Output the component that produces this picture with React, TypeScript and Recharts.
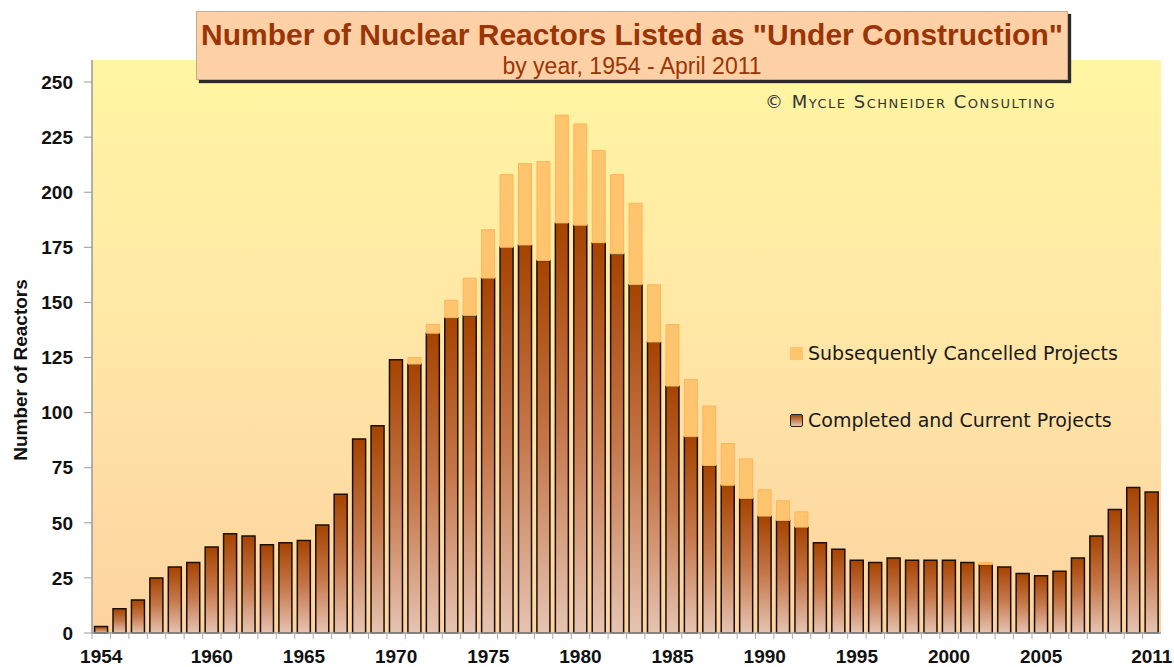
import React from 'react';
import { BarChart, Bar, XAxis, YAxis, CartesianGrid } from 'recharts';

const years = [
  1954, 1955, 1956, 1957, 1958, 1959, 1960, 1961, 1962, 1963,
  1964, 1965, 1966, 1967, 1968, 1969, 1970, 1971, 1972, 1973,
  1974, 1975, 1976, 1977, 1978, 1979, 1980, 1981, 1982, 1983,
  1984, 1985, 1986, 1987, 1988, 1989, 1990, 1991, 1992, 1993,
  1994, 1995, 1996, 1997, 1998, 1999, 2000, 2001, 2002, 2003,
  2004, 2005, 2006, 2007, 2008, 2009, 2010, 2011,
];

// completed and current projects (dark bars)
const completed = [
  3, 11, 15, 25, 30, 32, 39, 45, 44, 40,
  41, 42, 49, 63, 88, 94, 124, 122, 136, 143,
  144, 161, 175, 176, 169, 186, 185, 177, 172, 158,
  132, 112, 89, 76, 67, 61, 53, 51, 48, 41,
  38, 33, 32, 34, 33, 33, 33, 32, 31, 30,
  27, 26, 28, 34, 44, 56, 66, 64,
];

// subsequently cancelled projects (stacked on top)
const cancelled = [
  0, 0, 0, 0, 0, 0, 0, 0, 0, 0,
  0, 0, 0, 0, 0, 0, 0, 3, 4, 8,
  17, 22, 33, 37, 45, 49, 46, 42, 36, 37,
  26, 28, 26, 27, 19, 18, 12, 9, 7, 0,
  0, 0, 0, 0, 0, 0, 0, 0, 1, 0,
  0, 0, 0, 0, 0, 0, 0, 0,
];

const yTicks = [0, 25, 50, 75, 100, 125, 150, 175, 200, 225, 250];
const xLabels = ['1954', '1960', '1965', '1970', '1975', '1980', '1985', '1990', '1995', '2000', '2005', '2011'];

const data = years.map((y, i) => ({
  year: String(y),
  completed: completed[i],
  cancelled: cancelled[i],
}));

const FONT = '"Liberation Sans", Arial, sans-serif';
const LEGEND_FONT = '"DejaVu Sans", sans-serif';
const TITLE_COLOR = '#9a3507';

const YearTick = (props: any) => {
  const { x, y, payload } = props;
  const half = 9.2;
  return (
    <g>
      <line x1={x - half} y1={y} x2={x - half} y2={y + 6} stroke="#aaa" />
      {xLabels.includes(payload.value) && (
        <text x={x} y={y + 30} textAnchor="middle" fontFamily={FONT} fontWeight="bold" fontSize={19} fill="#111">
          {payload.value}
        </text>
      )}
    </g>
  );
};

export default function App() {
  return (
    <div style={{ position: 'fixed', left: 0, top: 0, width: 1174, height: 667, background: '#fff', overflow: 'hidden' }}>
      <BarChart
        width={1174}
        height={667}
        data={data}
        margin={{ top: 60, right: 13, left: 0, bottom: 0 }}
        barCategoryGap="14%"
      >
        <defs>
          <linearGradient id="bgGrad" x1="0" y1="0" x2="0" y2="1">
            <stop offset="0%" stopColor="#fff6a2" />
            <stop offset="50%" stopColor="#ffe6a6" />
            <stop offset="100%" stopColor="#fdd3a0" />
          </linearGradient>
          <linearGradient id="darkGrad" x1="0" y1="0" x2="0" y2="1">
            <stop offset="0%" stopColor="#a64300" />
            <stop offset="50%" stopColor="#c6774a" />
            <stop offset="100%" stopColor="#e6c4b2" />
          </linearGradient>
        </defs>
        <CartesianGrid horizontal={false} vertical={false} fill="url(#bgGrad)" />
        <XAxis
          dataKey="year"
          interval={0}
          tickSize={0}
          tickMargin={0}
          height={34}
          tick={<YearTick />}
          axisLine={{ stroke: '#999', strokeWidth: 1.5 }}
          tickLine={false}
        />
        <XAxis
          xAxisId="top"
          dataKey="year"
          orientation="top"
          height={0}
          tick={false}
          tickLine={false}
          axisLine={{ stroke: '#aaa', strokeWidth: 1.5 }}
        />
        <YAxis
          width={92}
          domain={[0, 260]}
          ticks={yTicks}
          interval={0}
          tickSize={8}
          tickMargin={11}
          axisLine={{ stroke: '#999', strokeWidth: 1.5 }}
          tickLine={{ stroke: '#999' }}
          tick={{ fill: '#111', fontFamily: FONT, fontWeight: 'bold', fontSize: 19 }}
          label={() => (
            <text
              x={22}
              y={370}
              transform="rotate(-90, 22, 370)"
              textAnchor="middle"
              dominantBaseline="middle"
              fontFamily={FONT}
              fontWeight="bold"
              fontSize={19}
              fill="#111"
            >
              Number of Reactors
            </text>
          )}
        />
        <YAxis
          yAxisId="right"
          orientation="right"
          width={0}
          tick={false}
          tickLine={false}
          axisLine={{ stroke: '#aaa', strokeWidth: 1.5 }}
        />
        <Bar
          dataKey="completed"
          stackId="a"
          fill="url(#darkGrad)"
          stroke="#1a1008"
          strokeWidth={1.5}
          isAnimationActive={false}
        />
        <Bar
          dataKey="cancelled"
          stackId="a"
          fill="#ffc46e"
          stroke="#ffb45a"
          strokeWidth={1}
          isAnimationActive={false}
        />
      </BarChart>

      {/* title box */}
      <div
        style={{
          position: 'absolute',
          left: 196,
          top: 11,
          width: 870,
          height: 67,
          background: '#fdd0a5',
          border: '1px solid #c8a890',
          boxShadow: '3px 3px 1px #2a2a2a',
          textAlign: 'center',
          color: TITLE_COLOR,
          fontFamily: FONT,
        }}
      >
        <div style={{ fontSize: 30, fontWeight: 'bold', lineHeight: '34px', marginTop: 6 }}>
          Number of Nuclear Reactors Listed as "Under Construction"
        </div>
        <div style={{ fontSize: 23, lineHeight: '26px', marginTop: 1 }}>by year, 1954 - April 2011</div>
      </div>

      <div
        style={{
          position: 'absolute',
          left: 765,
          top: 91,
          fontFamily: LEGEND_FONT,
          fontVariant: 'small-caps',
          fontSize: 18,
          letterSpacing: 1.5,
          color: '#333',
          whiteSpace: 'nowrap',
        }}
      >
        © Mycle Schneider Consulting
      </div>

      {/* legend */}
      <div style={{ position: 'absolute', left: 790, top: 342, display: 'flex', alignItems: 'center', whiteSpace: 'nowrap' }}>
        <div style={{ width: 13, height: 13, background: '#ffc46e', marginRight: 5 }} />
        <span style={{ fontFamily: LEGEND_FONT, fontSize: 19, color: '#1a1a1a' }}>
          Subsequently Cancelled Projects
        </span>
      </div>
      <div style={{ position: 'absolute', left: 790, top: 409, display: 'flex', alignItems: 'center', whiteSpace: 'nowrap' }}>
        <div
          style={{
            width: 11,
            height: 11,
            background: 'linear-gradient(#a64300, #e6c4b2)',
            border: '1.5px solid #222',
            borderRadius: 2,
            marginRight: 5,
          }}
        />
        <span style={{ fontFamily: LEGEND_FONT, fontSize: 19, color: '#1a1a1a' }}>
          Completed and Current Projects
        </span>
      </div>
    </div>
  );
}
